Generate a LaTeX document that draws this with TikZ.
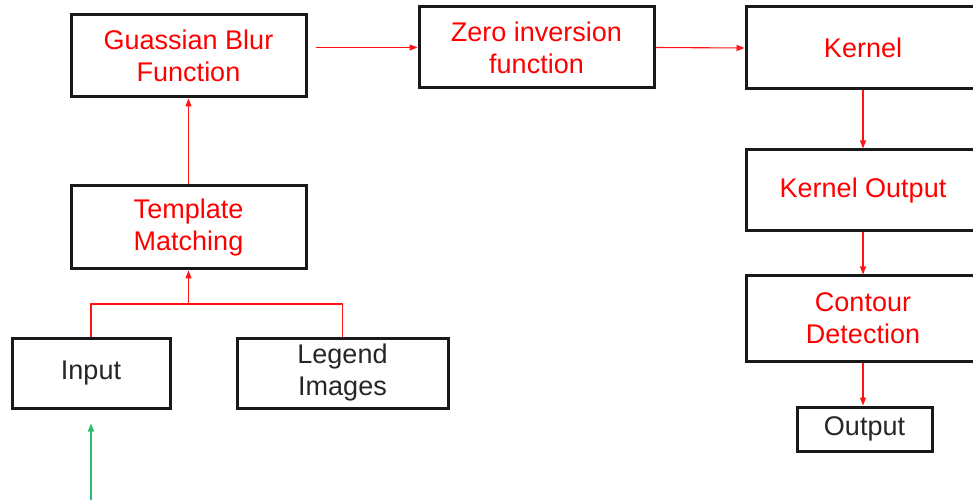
\documentclass[tikz,border=0pt]{standalone}
\usepackage{fontspec}
\setmainfont{Liberation Sans}
\usepackage{tikz}
\usetikzlibrary{arrows.meta,positioning}

\definecolor{linkred}{RGB}{255,20,20}
\definecolor{feedgreen}{RGB}{40,190,110}

\begin{document}
\begin{tikzpicture}[x=1pt,y=-1pt,
  block/.style={draw=black!90,line width=3pt,align=center,inner sep=0pt,
    font=\fontsize{27}{32}\selectfont,text=red,
    minimum width=235pt,minimum height=82pt},
  plain/.style={block,text=black!85},
  flow/.style={draw=linkred,line width=1.1pt,-{Triangle[length=8pt,width=6pt]}},
  wire/.style={draw=linkred,line width=1.1pt}]
  \useasboundingbox (0,0) rectangle (973,502);
  \clip (0,0) rectangle (973,502);
  \node[block] (blur) at (188.5,56) {Guassian Blur\\Function};
  \node[block,minimum height=81pt] (zero) at (536.5,47.5) {Zero inversion\\function};
  \node[block,minimum width=234pt] (kernel) at (863,48) {Kernel};
  \node[block,minimum width=234pt,minimum height=81pt] (kout) at (863,190.5) {Kernel Output};
  \node[block,minimum width=234pt,minimum height=85pt] (contour) at (863,318.5) {Contour\\Detection};
  \node[plain,minimum width=135pt,minimum height=44pt] (output) at (864.5,429) {Output};
  \node[block,minimum height=83pt] (match) at (188.5,227.5) {Template\\Matching};
  \node[plain,minimum width=158pt,minimum height=70pt] (input) at (91,373) {Input};
  \node[plain,minimum width=211pt,minimum height=70pt] (legend) at (342.5,373) {Legend\\Images};
  \coordinate (join) at (188.5,304);
  \coordinate (feed) at (91,500);

  \path
  (blur.east |- zero.west) edge[flow,shorten <=8pt] (zero.west)
  (zero.east) edge[flow] (kernel.west)
  (kernel.south) edge[flow] (kout.north)
  (kout.south) edge[flow] (contour.north)
  (contour.south) edge[flow] (contour.south |- output.north)
  (match.north) edge[flow] (match.north |- blur.south)
  (join) edge[flow] (match.south);
  \draw[wire] (input.north) |- (legend.north |- join) -- (legend.north);
  \draw[flow,draw=feedgreen,shorten >=14pt] (feed) -- (input.south);
\end{tikzpicture}
\end{document}
